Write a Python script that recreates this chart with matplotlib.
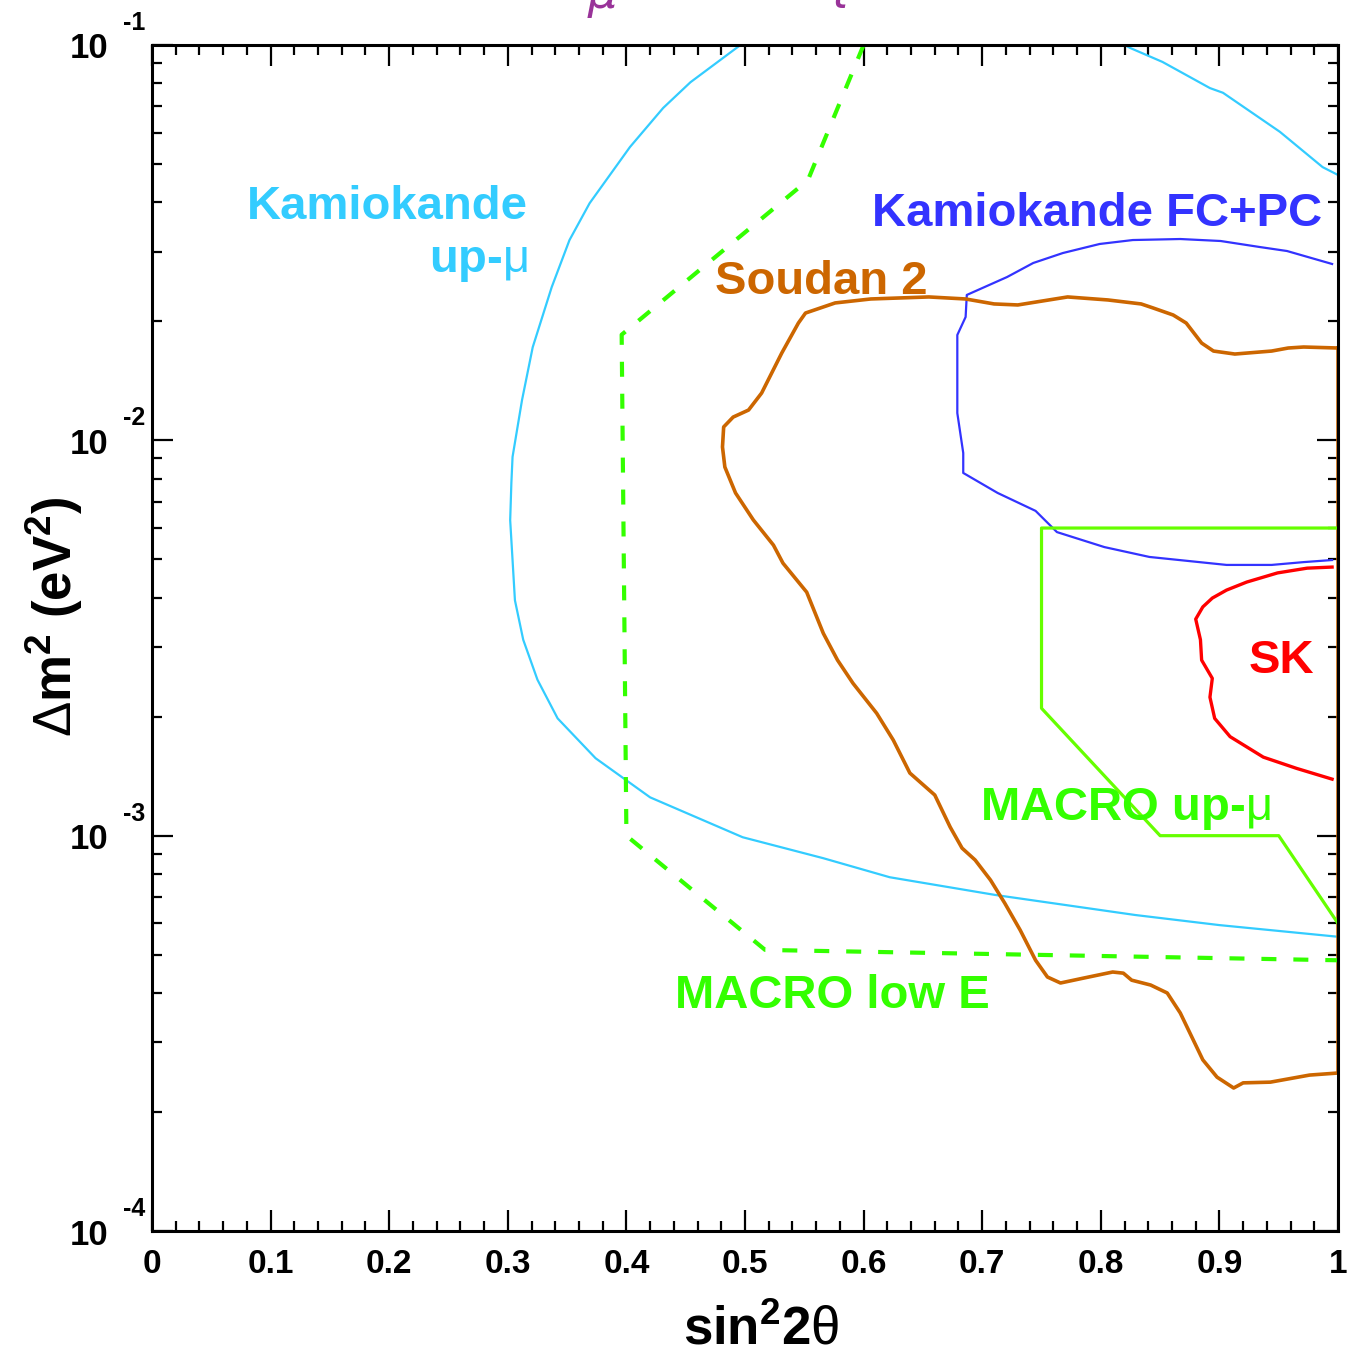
import matplotlib
matplotlib.use("Agg")
import matplotlib.pyplot as plt
import matplotlib.transforms as mtransforms
from matplotlib.ticker import MultipleLocator, LogLocator, NullFormatter
import numpy as np

plt.rcParams['font.family'] = ['Liberation Sans', 'DejaVu Sans']
plt.rcParams['mathtext.fontset'] = 'custom'
plt.rcParams['mathtext.rm'] = 'Liberation Sans'
plt.rcParams['mathtext.bf'] = 'Liberation Sans:bold'
plt.rcParams['mathtext.it'] = 'Liberation Sans:italic'
plt.rcParams['lines.scale_dashes'] = False

# --- contours: x = sin^2(2 theta), y = delta m^2 (eV^2) ---

# Kamiokande up-mu (goes out through the top of the frame and comes back)
kam_up_x = [1.0, 0.900, 0.829, 0.711, 0.622, 0.566, 0.498, 0.420, 0.374, 0.342,
            0.325, 0.313, 0.306, 0.304, 0.302, 0.303, 0.304, 0.312, 0.321, 0.337,
            0.352, 0.369, 0.403, 0.431, 0.454, 0.494, 0.56, 0.66, 0.76,
            0.825, 0.852, 0.892, 0.903, 0.951, 0.987, 1.0]
kam_up_y = [0.000555, 0.000594, 0.000630, 0.000708, 0.000785, 0.000877, 0.000991,
            0.00125, 0.00157, 0.00198, 0.00248, 0.00313, 0.00394, 0.00498, 0.00628,
            0.00780, 0.00908, 0.01265, 0.0172, 0.0244, 0.0321, 0.0398, 0.0552,
            0.0693, 0.0805, 0.0989, 0.135, 0.15, 0.125,
            0.0982, 0.0906, 0.0778, 0.0757, 0.0603, 0.0491, 0.0469]

# Kamiokande FC+PC
kam_fc_x = [0.995, 0.957, 0.934, 0.901, 0.867, 0.827, 0.799, 0.768, 0.743, 0.721,
            0.687, 0.686, 0.679, 0.679, 0.684, 0.684, 0.713, 0.745, 0.763, 0.803,
            0.841, 0.906, 0.944, 0.971, 0.995]
kam_fc_y = [0.02793, 0.03012, 0.03083, 0.03193, 0.03230, 0.03211, 0.03138, 0.02977,
            0.02809, 0.02589, 0.02332, 0.02051, 0.01847, 0.01172, 0.00929, 0.00827,
            0.00736, 0.00663, 0.00586, 0.00537, 0.00507, 0.00484, 0.00484, 0.00492,
            0.00498]

# Soudan 2 (closed along sin^2 2theta = 1)
soudan_x = [1.0, 0.971, 0.958, 0.944, 0.913, 0.895, 0.885, 0.872, 0.861, 0.844,
            0.834, 0.806, 0.772, 0.751, 0.730, 0.710, 0.686, 0.655, 0.606, 0.576,
            0.551, 0.545, 0.531, 0.514, 0.503, 0.490, 0.482, 0.481, 0.483, 0.492,
            0.507, 0.524, 0.532, 0.552, 0.566, 0.578, 0.591, 0.611, 0.625, 0.639,
            0.660, 0.673, 0.683, 0.694, 0.707, 0.719, 0.732, 0.745, 0.755, 0.766,
            0.785, 0.810, 0.819, 0.826, 0.842, 0.856, 0.867, 0.886, 0.898, 0.912,
            0.920, 0.943, 0.976, 1.0, 1.0]
soudan_y = [0.01712, 0.01722, 0.01712, 0.01682, 0.01653, 0.01682, 0.01762, 0.01980,
            0.02075, 0.02162, 0.02213, 0.02265, 0.02305, 0.02252, 0.02200, 0.02213,
            0.02278, 0.02305, 0.02278, 0.02226, 0.02099, 0.01980, 0.01663, 0.01317,
            0.01193, 0.01145, 0.01081, 0.00962, 0.00856, 0.00736, 0.00629, 0.00543,
            0.00489, 0.00413, 0.00325, 0.00278, 0.00243, 0.00204, 0.001745, 0.001440,
            0.001267, 0.001051, 0.000930, 0.000868, 0.000772, 0.000675, 0.000577,
            0.000484, 0.000439, 0.000424, 0.000436, 0.000452, 0.000449, 0.000431,
            0.000419, 0.000400, 0.000356, 0.000271, 0.000245, 0.000230, 0.000237,
            0.000238, 0.000248, 0.000251, 0.01712]

# Super-Kamiokande
sk_x = [0.995, 0.974, 0.949, 0.923, 0.906, 0.894, 0.886, 0.880, 0.884, 0.885,
        0.894, 0.892, 0.896, 0.909, 0.937, 0.965, 0.995]
sk_y = [0.00478, 0.00475, 0.00462, 0.00438, 0.00418, 0.00399, 0.00379, 0.00353,
        0.00313, 0.00278, 0.00250, 0.00224, 0.00198, 0.00178, 0.00158, 0.00148,
        0.00139]

# MACRO up-mu
macro_up_x = [1.0, 0.75, 0.75, 0.85, 0.95, 1.0]
macro_up_y = [0.006, 0.006, 0.0021, 0.001, 0.001, 0.0006]

# MACRO low E
macro_low_x = [0.6, 0.553, 0.396, 0.4, 0.517, 1.0]
macro_low_y = [0.1, 0.0455, 0.0185, 0.001, 0.000514, 0.000484]

x_ticks = [0, 0.1, 0.2, 0.3, 0.4, 0.5, 0.6, 0.7, 0.8, 0.9, 1.0]
x_tick_labels = ["0", "0.1", "0.2", "0.3", "0.4", "0.5", "0.6", "0.7", "0.8", "0.9", "1"]
y_ticks = [1e-4, 1e-3, 1e-2, 1e-1]
y_tick_exps = ["-4", "-3", "-2", "-1"]

# colours
c_cyan = "#33CCFF"
c_blue = "#3333FF"
c_orange = "#CC6600"
c_red = "#FF0000"
c_green = "#66FF00"
c_green_txt = "#33FF00"

fig = plt.figure(figsize=(13.62, 13.55), dpi=100)
ax = fig.add_axes([0.1116, 0.0915, 0.8708, 0.8753])

ax.plot(kam_up_x, kam_up_y, color=c_cyan, lw=1.6)
ax.plot(kam_fc_x, kam_fc_y, color=c_blue, lw=1.6)
ax.plot(soudan_x, soudan_y, color=c_orange, lw=2.6, solid_joinstyle='round')
ax.plot(sk_x, sk_y, color=c_red, lw=2.4)
ax.plot(macro_up_x, macro_up_y, color=c_green, lw=2.3)
ax.plot(macro_low_x, macro_low_y, color=c_green_txt, lw=3.0,
        dashes=(10.8, 12.2), dash_capstyle='butt')

ax.set_xlim(0, 1)
ax.set_yscale('log')
ax.set_ylim(1e-4, 1e-1)

# ticks inward on all four sides
ax.set_xticks(x_ticks)
ax.set_xticklabels(x_tick_labels, fontsize=24, fontweight='bold')
ax.xaxis.set_minor_locator(MultipleLocator(0.02))
ax.set_yticks(y_ticks)
ax.yaxis.set_minor_locator(LogLocator(base=10, subs=range(2, 10)))
ax.yaxis.set_major_formatter(NullFormatter())
ax.yaxis.set_minor_formatter(NullFormatter())
ax.tick_params(which='both', direction='in', top=True, right=True, width=1.6)
ax.tick_params(which='major', length=15)
ax.tick_params(which='minor', length=7.5)
ax.tick_params(axis='x', pad=13)
for s in ax.spines.values():
    s.set_linewidth(2.2)

# y tick labels the ROOT way: "10" with the exponent up and to the right
ytrans = mtransforms.offset_copy(ax.get_yaxis_transform(), fig=fig, x=0, y=-4, units='dots')
exptrans = mtransforms.offset_copy(ax.get_yaxis_transform(), fig=fig, x=0, y=22, units='dots')
for v, e in zip(y_ticks, y_tick_exps):
    ax.text(-0.037, v, "10", transform=ytrans, ha='right', va='center',
            fontsize=25, fontweight='bold')
    ax.text(-0.0245, v, e, transform=exptrans, ha='left', va='center',
            fontsize=18, fontweight='bold')

# axis titles
ax.text(0.514, -0.0835, r"sin$^{\mathbf{2}}$2$\mathrm{θ}$", transform=ax.transAxes,
        ha='center', va='center', fontsize=38, fontweight='bold')
ax.text(-0.082, 0.518, r"$\mathrm{Δ}$m$^{\mathbf{2}}$ (eV$^{\mathbf{2}}$)",
        transform=ax.transAxes, ha='center', va='center',
        rotation=90, fontsize=38, fontweight='bold')

# curve labels
lab = dict(fontsize=34, fontweight='bold', va='baseline')
ax.text(0.317, 0.0363, "Kamiokande", color=c_cyan, ha='right', **lab)
ax.text(0.317, 0.0267, r"up-$\mathrm{μ}$", color=c_cyan, ha='right', **lab)
ax.text(0.9865, 0.0348, "Kamiokande FC+PC", color=c_blue, ha='right', **lab)
ax.text(0.4747, 0.02344, "Soudan 2", color=c_orange, ha='left', **lab)
ax.text(0.98, 0.002576, "SK", color=c_red, ha='right', **lab)
ax.text(0.698, 0.001094, r"MACRO up-$\mathrm{μ}$", color=c_green_txt, ha='left', **lab)
ax.text(0.441, 0.000366, "MACRO low E", color=c_green_txt, ha='left', **lab)

# title, mostly above the canvas (only the subscripts peek in, as in the original)
fig.text(550 / 1362, 1.0017, r"$\nu_{\mu}\ \ \leftrightarrow\ \ \nu_{\tau}$",
         color="#993399", fontsize=48, ha='left', va='baseline',
         math_fontfamily='dejavusans')

fig.savefig("out.png", dpi=100)
